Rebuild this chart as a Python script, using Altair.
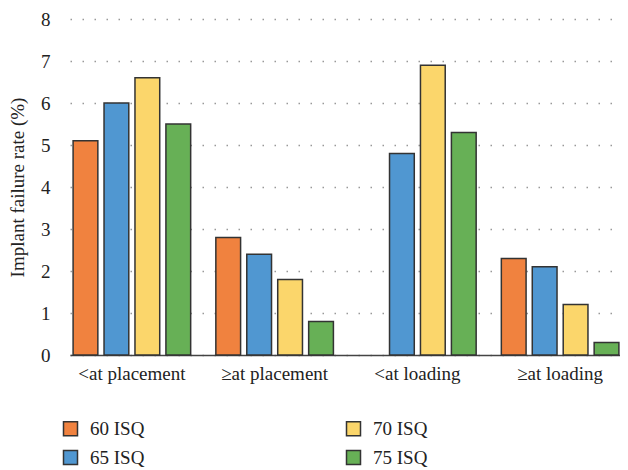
import altair as alt
import pandas as pd

categories = ["<at placement", "≥at placement", "<at loading", "≥at loading"]
series = ["60 ISQ", "65 ISQ", "70 ISQ", "75 ISQ"]
values = {
    "60 ISQ": [5.1, 2.8, None, 2.3],
    "65 ISQ": [6.0, 2.4, 4.8, 2.1],
    "70 ISQ": [6.6, 1.8, 6.9, 1.2],
    "75 ISQ": [5.5, 0.8, 5.3, 0.3],
}
colors = {"60 ISQ": "#F0823F", "65 ISQ": "#5097D1", "70 ISQ": "#FBD66B", "75 ISQ": "#67B056"}

rows = []
for s in series:
    for c, v in zip(categories, values[s]):
        if v is not None:
            rows.append({"category": c, "series": s, "value": v})
df = pd.DataFrame(rows)

FONT = "Liberation Serif"
FS = 19

chart = alt.Chart(df).mark_bar(stroke="#333333", strokeWidth=1.5).encode(
    x=alt.X("category:N", sort=categories, title=None,
            scale=alt.Scale(range=[9, 561], paddingInner=0.133, paddingOuter=0),
            axis=alt.Axis(labelAngle=0, ticks=False, domainColor="#444444", domainWidth=1.5,
                          labelPadding=9, labelFontSize=FS, labelFont=FONT, labelColor="#222222",
                          grid=False)),
    xOffset=alt.XOffset("series:N", sort=series,
                        scale=alt.Scale(paddingInner=0.2, paddingOuter=0.1)),
    y=alt.Y("value:Q", title="Implant failure rate (%)",
            scale=alt.Scale(domain=[0, 8]),
            axis=alt.Axis(values=[0, 1, 2, 3, 4, 5, 6, 7, 8], ticks=False, domain=False,
                          grid=True, gridDash=[1.5, 10.5], gridColor="#999999", gridWidth=1.5,
                          labelPadding=11, labelFontSize=FS, labelFont=FONT, labelColor="#222222",
                          titleFont=FONT, titleFontSize=FS, titleFontWeight="normal",
                          titleColor="#222222", titlePadding=13)),
    color=alt.Color("series:N", scale=alt.Scale(domain=series,
                                                range=[colors[s] for s in series]),
                    legend=alt.Legend(title=None, orient="none", legendX=0, legendY=400,
                                      columns=2, columnPadding=198, rowPadding=8,
                                      symbolType="square", symbolSize=196,
                                      symbolStrokeColor="#333333", symbolStrokeWidth=1.5,
                                      labelFont=FONT, labelFontSize=FS, labelColor="#222222",
                                      labelOffset=10)),
).properties(
    width=559, height=336,
    autosize=alt.AutoSizeParams(type="none"),
    padding={"left": 53, "top": 11, "right": 0, "bottom": 118},
).configure_view(stroke=None)

chart.save("out.html", embed_options={"renderer": "svg", "actions": False})
